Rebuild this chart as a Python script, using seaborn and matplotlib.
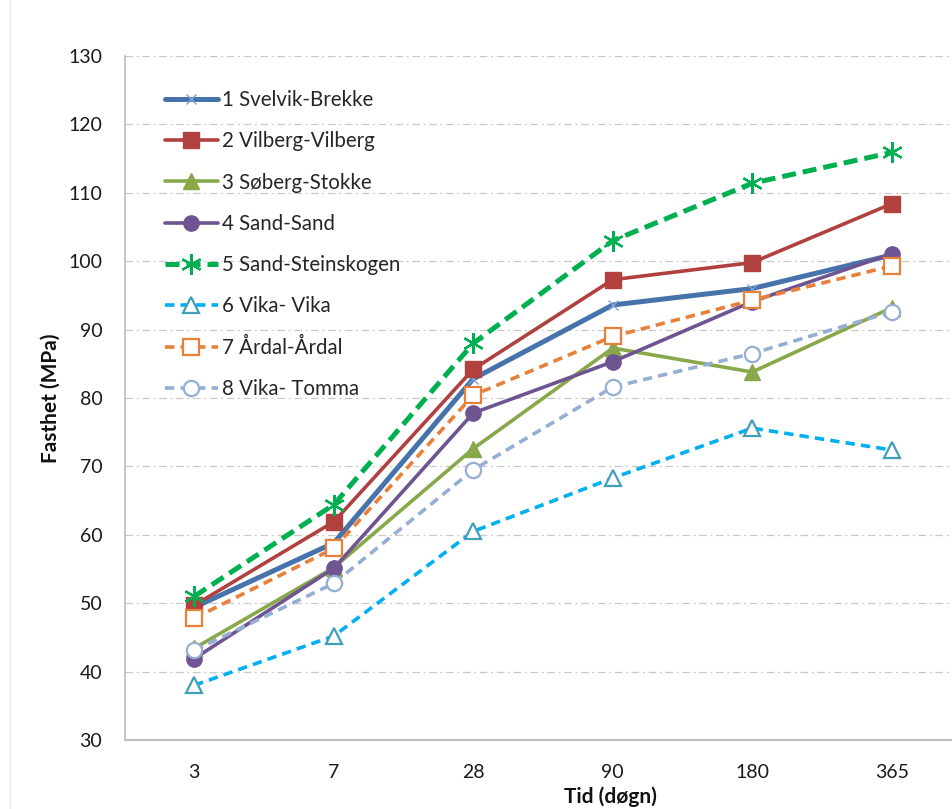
import matplotlib
matplotlib.use("Agg")
import matplotlib.pyplot as plt
from matplotlib.lines import Line2D
import seaborn as sns
import pandas as pd

# Curing age categories (days)
ages = ["3", "7", "28", "90", "180", "365"]

# Compressive strength (MPa) per mix
svelvik_brekke = [49.4, 58.8, 82.8, 93.6, 96.0, 100.9]
vilberg_vilberg = [49.7, 61.9, 84.2, 97.3, 99.8, 108.4]
soberg_stokke = [43.4, 55.2, 72.6, 87.3, 83.8, 93.2]
sand_sand = [41.9, 55.1, 77.8, 85.3, 94.1, 101.1]
sand_steinskogen = [51.0, 64.4, 88.0, 103.0, 111.4, 115.9]
vika_vika = [38.0, 45.2, 60.5, 68.3, 75.6, 72.4]
ardal_ardal = [47.8, 58.0, 80.4, 89.0, 94.3, 99.3]
vika_tomma = [43.1, 52.9, 69.5, 81.6, 86.5, 92.6]

series_names = [
    "1 Svelvik-Brekke", "2 Vilberg-Vilberg", "3 Søberg-Stokke", "4 Sand-Sand",
    "5 Sand-Steinskogen", "6 Vika- Vika", "7 Årdal-Årdal", "8 Vika- Tomma",
]
series_values = [
    svelvik_brekke, vilberg_vilberg, soberg_stokke, sand_sand,
    sand_steinskogen, vika_vika, ardal_ardal, vika_tomma,
]

# Line/marker styling per mix
styles = [
    dict(color="#4673AC", lw=3.6, dashes=None, marker="x", ms=7, mfc="#7FA3D6", mec="#7FA3D6", mew=1.0),
    dict(color="#B0413E", lw=2.6, dashes=None, marker="s", ms=11, mfc="#B0413E", mec="#B0413E", mew=1.0),
    dict(color="#89A84A", lw=2.6, dashes=None, marker="^", ms=12, mfc="#89A84A", mec="#89A84A", mew=1.0),
    dict(color="#6E5491", lw=2.6, dashes=None, marker="o", ms=11, mfc="#6E5491", mec="#6E5491", mew=1.0),
    dict(color="#00B050", lw=3.6, dashes=(2.8, 1.4), marker=(6, 2, 0), ms=15, mfc="#00B050", mec="#00B050", mew=1.6),
    dict(color="#00B0F0", lw=2.6, dashes=(2.6, 1.7), marker="^", ms=11, mfc="white", mec="#3FA0B8", mew=1.6),
    dict(color="#E9803A", lw=2.6, dashes=(2.6, 1.7), marker="s", ms=11, mfc="white", mec="#E9803A", mew=1.6),
    dict(color="#94AED4", lw=2.6, dashes=(2.6, 1.7), marker="o", ms=11, mfc="white", mec="#94AED4", mew=1.6),
]

sns.set_theme(style="white")
plt.rcParams["font.family"] = ["Lato", "DejaVu Sans"]

W, H = 952, 809
fig = plt.figure(figsize=(W / 100, H / 100), dpi=100)
ax = fig.add_axes([124.5 / W, (H - 740) / H, 837 / W, 684 / H])

positions = list(range(len(ages)))
for name, vals, st in zip(series_names, series_values, styles):
    df = pd.DataFrame({"age": positions, "strength": vals})
    kw = dict(color=st["color"], linewidth=st["lw"], marker=st["marker"],
              markersize=st["ms"], markerfacecolor=st["mfc"],
              markeredgecolor=st["mec"], markeredgewidth=st["mew"],
              solid_joinstyle="round", solid_capstyle="round")
    if st["dashes"] is not None:
        kw["dashes"] = st["dashes"]
    sns.lineplot(data=df, x="age", y="strength", ax=ax, label=name, **kw)

ax.set_xlim(-0.5, len(ages) - 0.5)
ax.set_ylim(30, 130)
ax.set_xticks(positions)
ax.set_xticklabels(ages)
ax.set_yticks(range(30, 131, 10))
ax.tick_params(axis="both", length=0, labelsize=14, colors="#1a1a1a")
ax.tick_params(axis="x", pad=17)
ax.tick_params(axis="y", pad=16)

# Horizontal dash-dot gridlines
for v in range(40, 131, 10):
    ax.axhline(v, color="#C8C8C8", lw=0.9, dashes=(6, 3, 1.5, 3), zorder=0)
ax.grid(False)

for side in ["top", "right"]:
    ax.spines[side].set_visible(False)
ax.spines["left"].set_color("#BDBDBD")
ax.spines["bottom"].set_color("#BDBDBD")
ax.spines["left"].set_linewidth(1.2)
ax.spines["bottom"].set_linewidth(1.5)

ax.set_ylabel("Fasthet (MPa)", fontsize=15, fontweight="bold", color="#111111")
ax.yaxis.set_label_coords((61 - 124.5) / 837, 0.5)
ax.set_xlabel("Tid (døgn)", fontsize=15, fontweight="bold", color="#111111")
ax.xaxis.set_label_coords((610 - 124.5) / 837, -(786 - 740) / 684)

ax.legend(loc="upper left", bbox_to_anchor=((165 - 124.5) / 837, 1 - (90 - 56) / 684),
          frameon=False, fontsize=14.8, handlelength=2.57, handletextpad=0.2,
          labelspacing=1.035, borderaxespad=0, borderpad=0)

# Thin chart-area border on the left
fig.add_artist(Line2D([10 / W, 10 / W], [0, 1], color="#E6E6E6", lw=1.0))

fig.savefig("out.png", dpi=100)
